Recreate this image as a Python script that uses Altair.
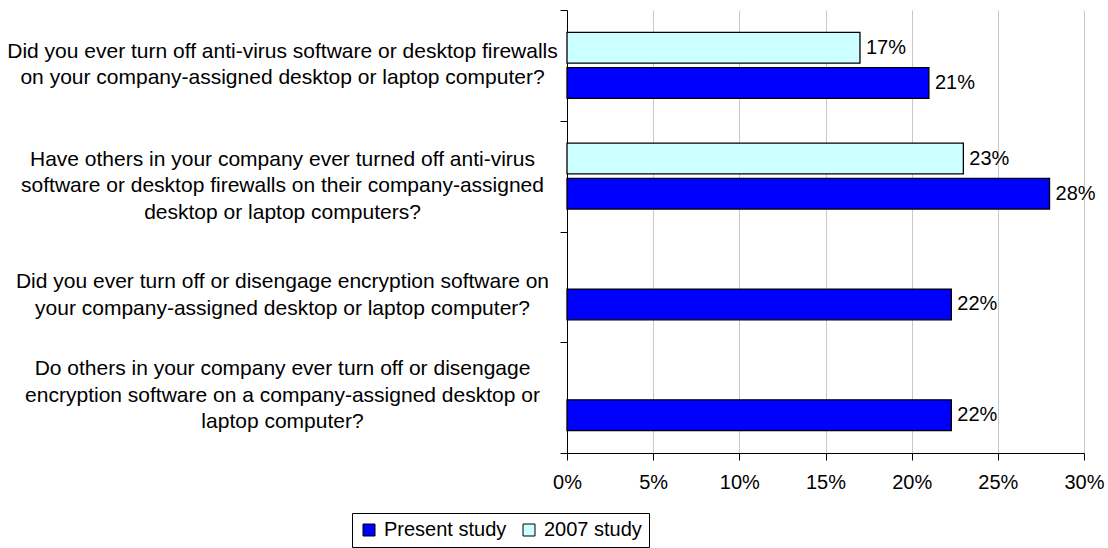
import altair as alt
import pandas as pd

questions = [
    "Did you ever turn off anti-virus software or desktop firewalls|on your company-assigned desktop or laptop computer?",
    "Have others in your company ever turned off anti-virus|software or desktop firewalls on their company-assigned|desktop or laptop computers?",
    "Did you ever turn off or disengage encryption software on|your company-assigned desktop or laptop computer?",
    "Do others in your company ever turn off or disengage|encryption software on a company-assigned desktop or|laptop computer?",
]
series_names = ["Present study", "2007 study"]
present_values = [21.0, 28.0, 22.3, 22.3]
study2007_values = [17.0, 23.0, None, None]
x_ticks = [0, 5, 10, 15, 20, 25, 30]

rows = []
for q, p, o in zip(questions, present_values, study2007_values):
    if o is not None:
        rows.append({"q": q, "series": "2007 study", "value": o})
    rows.append({"q": q, "series": "Present study", "value": p})
df = pd.DataFrame(rows)
df["label"] = df["value"].round(0).astype(int).astype(str) + "%"

FONT = "Liberation Sans"

y_scale = alt.Scale(domain=questions, paddingInner=0, paddingOuter=0)
yoff_scale = alt.Scale(domain=["2007 study", "Present study"], paddingInner=0.123, paddingOuter=0.64)

label_offsets = [-14, -17, -5, -29]
label_offset_cond = {
    "condition": [
        {"test": f"datum.value == {q!r}", "value": off}
        for q, off in zip(questions[:-1], label_offsets[:-1])
    ],
    "value": label_offsets[-1],
}

y_enc = alt.Y(
    "q:N",
    sort=questions,
    scale=y_scale,
    axis=alt.Axis(
        title=None,
        labelExpr="split(datum.label, '|')",
        labelAlign="center",
        labelBaseline="middle",
        labelPadding=278,
        labelOffset=label_offset_cond,
        labelLimit=2000,
        labelLineHeight=26.5,
        labelFontSize=21,
        labelFont=FONT,
        labelColor="#000000",
        tickBand="extent",
        tickSize=7,
        tickColor="#000000",
        domainColor="#000000",
        grid=False,
    ),
)
yoff_enc = alt.YOffset("series:N", sort=["2007 study", "Present study"], scale=yoff_scale)

x_enc = alt.X(
    "value:Q",
    scale=alt.Scale(domain=[0, 30], nice=False),
    axis=alt.Axis(
        title=None,
        values=x_ticks,
        labelExpr="datum.value + '%'",
        labelFontSize=20,
        labelFont=FONT,
        labelColor="#000000",
        labelPadding=12,
        labelFlush=False,
        tickSize=7,
        tickColor="#000000",
        domainColor="#000000",
        grid=True,
        gridColor="#C8C8C8",
        gridWidth=1,
    ),
)

bars = alt.Chart(df).mark_bar(stroke="#000000", strokeWidth=1.3).encode(
    y=y_enc,
    yOffset=yoff_enc,
    x=x_enc,
    color=alt.Color(
        "series:N",
        scale=alt.Scale(domain=series_names, range=["#0000FF", "#CCFFFF"]),
        legend=alt.Legend(
            title=None,
            orient="none",
            direction="horizontal",
            legendX=-215,
            legendY=503,
            symbolType="square",
            symbolSize=144,
            symbolStrokeColor="#000000",
            symbolStrokeWidth=1,
            labelFontSize=20,
            labelFont=FONT,
            labelColor="#000000",
            labelOffset=5,
            columnPadding=12,
            padding=7,
            strokeColor="#000000",
            cornerRadius=0,
        ),
    ),
)

texts = alt.Chart(df).mark_text(
    align="left", baseline="middle", dx=6, fontSize=20, font=FONT, color="#000000"
).encode(
    y=alt.Y("q:N", sort=questions, scale=y_scale),
    yOffset=alt.YOffset("series:N", sort=["2007 study", "Present study"], scale=yoff_scale),
    x=alt.X("value:Q"),
    text="label:N",
)

chart = (
    alt.layer(bars, texts)
    .properties(
        width=517,
        height=443,
        autosize=alt.AutoSizeParams(type="none"),
        padding={"left": 567, "top": 10, "right": 24, "bottom": 95},
        background="#FFFFFF",
    )
    .configure_view(stroke=None)
)

chart.save("out.html", embed_options={"renderer": "svg", "actions": False})
